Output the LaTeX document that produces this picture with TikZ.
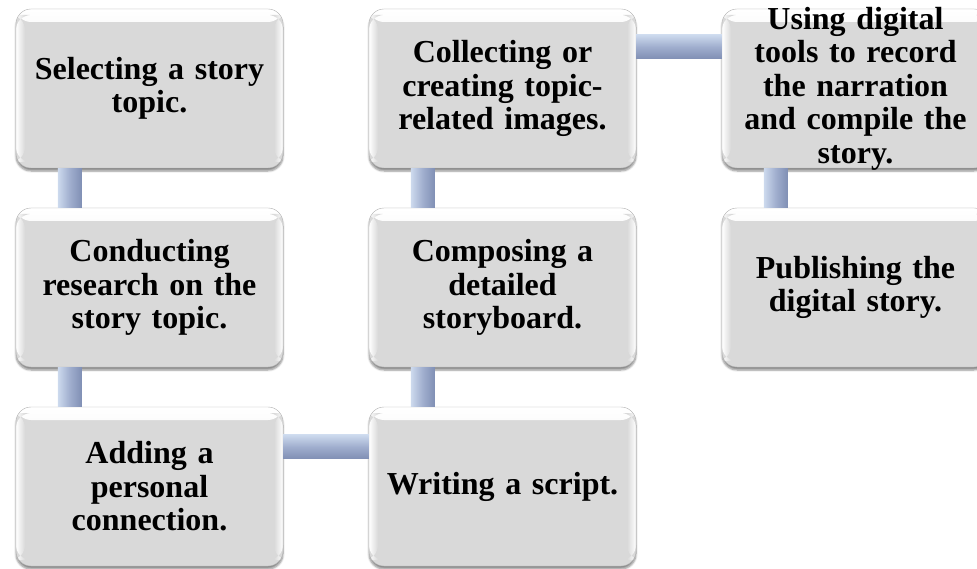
\documentclass[tikz,border=0pt]{standalone}
\usepackage{fontspec}
\setmainfont{Liberation Serif}
\usetikzlibrary{shadows.blur}
\definecolor{boxgray}{RGB}{217,217,217}
\definecolor{barmid}{RGB}{160,174,206}
\definecolor{barlight}{RGB}{205,218,238}
\definecolor{bardark}{RGB}{128,143,180}
\tikzset{
  stepbox/.style={rounded corners=15pt, minimum width=267pt, minimum height=159pt,
    inner sep=0pt, fill=boxgray, draw=boxgray!82!black, line width=0.4pt,
    blur shadow={shadow xshift=0pt, shadow yshift=-3pt, shadow blur steps=6, shadow opacity=45},
    path picture={
      \shade[top color=white, bottom color=boxgray]
        (path picture bounding box.north west) rectangle ([yshift=-13pt]path picture bounding box.north east);
      \shade[left color=white, right color=boxgray]
        ([yshift=-6pt]path picture bounding box.north west) rectangle ([xshift=9pt,yshift=6pt]path picture bounding box.south west);
      \shade[left color=boxgray, right color=white]
        ([xshift=-9pt,yshift=-6pt]path picture bounding box.north east) rectangle ([yshift=6pt]path picture bounding box.south east);
    }},
  steptext/.style={text width=264pt, align=center, inner sep=0pt,
    font=\bfseries\fontsize{32}{33.5}\selectfont},
  vbar/.style={left color=barlight, right color=bardark, middle color=barmid},
  hbar/.style={top color=barlight, bottom color=bardark, middle color=barmid},
}
\begin{document}
\begin{tikzpicture}[x=1pt,y=-1pt]
\useasboundingbox (0,0) rectangle (977,569);
\clip (0,0) rectangle (977,569);
% boxes
\node[stepbox] (b1) at (149.5,88.5) {};
\node[stepbox] (b2) at (149.5,287.5) {};
\node[stepbox] (b3) at (149.5,486.5) {};
\node[stepbox] (b4) at (502.5,486.5) {};
\node[stepbox] (b5) at (502.5,287.5) {};
\node[stepbox] (b6) at (502.5,88.5) {};
\node[stepbox] (b7) at (855.5,88.5) {};
\node[stepbox] (b8) at (855.5,287.5) {};
% connectors
\shade[vbar] ([xshift=42pt]b1.south west) rectangle ([xshift=66pt]b2.north west);
\shade[vbar] ([xshift=42pt]b2.south west) rectangle ([xshift=66pt]b3.north west);
\shade[hbar] ([yshift=-28pt]b3.north east) rectangle ([yshift=-52pt]b4.north west);
\shade[vbar] ([xshift=42pt]b4.north west) rectangle ([xshift=66pt]b5.south west);
\shade[vbar] ([xshift=42pt]b5.north west) rectangle ([xshift=66pt]b6.south west);
\shade[hbar] ([yshift=-26pt]b6.north east) rectangle ([yshift=-50pt]b7.north west);
\shade[vbar] ([xshift=42pt]b7.south west) rectangle ([xshift=66pt]b8.north west);
% texts
\node[steptext] (t1) at (b1) {Selecting a story\\topic.};
\node[steptext] (t2) at (b2) {Conducting\\research on the\\story topic.};
\node[steptext] (t3) at (b3) {Adding a\\personal\\connection.};
\node[steptext] (t4) at (b4) {Writing a script.};
\node[steptext] (t5) at (b5) {Composing a\\detailed\\storyboard.};
\node[steptext] (t6) at (b6) {Collecting or\\creating topic-\\related images.};
\node[steptext] (t7) at (b7) {Using digital\\tools to record\\the narration\\and compile the\\story.};
\node[steptext] (t8) at (b8) {Publishing the\\digital story.};
\end{tikzpicture}
\end{document}
